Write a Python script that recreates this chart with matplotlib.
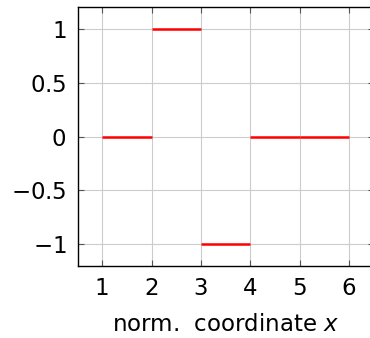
import matplotlib.pyplot as plt
import numpy as np

# piecewise constant values on each element
x_start = [1, 2, 3, 4, 5]
x_end = [2, 3, 4, 5, 6]
values = [0, 1, -1, 0, 0]

x_ticks = [1, 2, 3, 4, 5, 6]
y_ticks = [-1, -0.5, 0, 0.5, 1]
y_labels = ['$-1$', '$-0.5$', '$0$', '$0.5$', '$1$']

plt.rcParams['mathtext.fontset'] = 'dejavusans'

fig = plt.figure(figsize=(3.7, 3.38), dpi=100)
ax = fig.add_axes([0.2095, 0.213, 0.8005, 0.766])

ax.hlines(values, x_start, x_end, color='red', linewidth=1.8, zorder=3)

ax.set_xlim(0.5, 6.5)
ax.set_ylim(-1.2, 1.2)
ax.set_xticks(x_ticks)
ax.set_xticklabels([str(t) for t in x_ticks])
ax.set_yticks(y_ticks)
ax.set_yticklabels(y_labels)
ax.grid(True, color='#cccccc', linewidth=0.8)
ax.set_axisbelow(True)

ax.tick_params(direction='in', length=4, width=0.8, color='#555555',
               top=True, right=True, labelsize=16.5, pad=8)
for s in ax.spines.values():
    s.set_linewidth(1.0)

ax.set_xlabel('norm.  coordinate $x$', fontsize=16.5, labelpad=9)

plt.savefig('out.png', dpi=100)
